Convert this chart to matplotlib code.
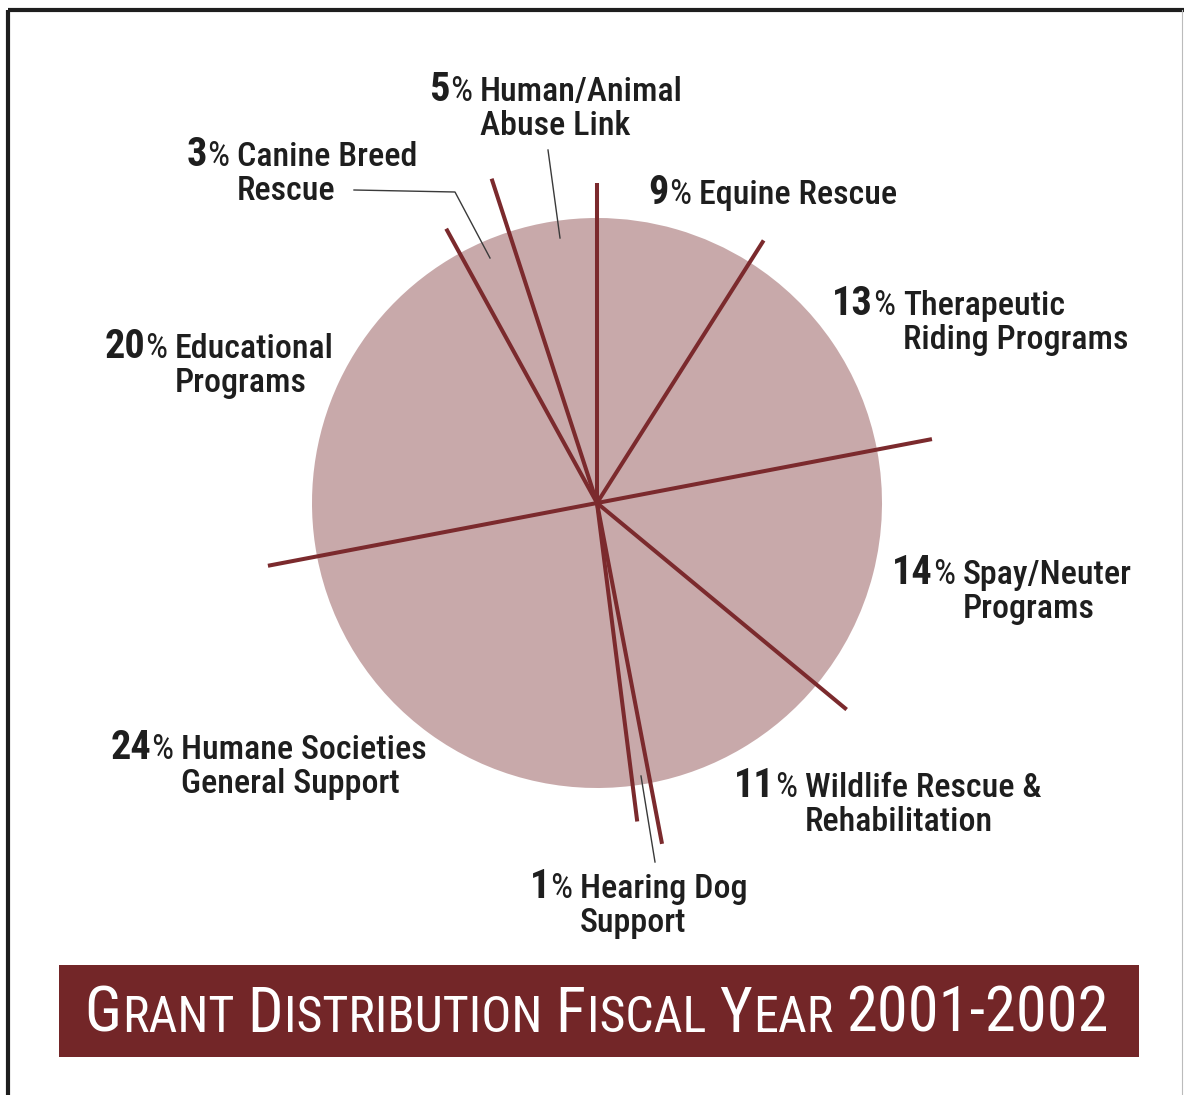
import matplotlib
matplotlib.use("Agg")
import matplotlib.pyplot as plt
from matplotlib import font_manager
from matplotlib.patches import Rectangle
import numpy as np

# ---------------- data ----------------
categories = [
    "Equine Rescue",
    "Therapeutic\nRiding Programs",
    "Spay/Neuter\nPrograms",
    "Wildlife Rescue &\nRehabilitation",
    "Hearing Dog\nSupport",
    "Humane Societies\nGeneral Support",
    "Educational\nPrograms",
    "Canine Breed\nRescue",
    "Human/Animal\nAbuse Link",
]
percentages = [9, 13, 14, 11, 1, 24, 20, 3, 5]
title = "GRANT DISTRIBUTION FISCAL YEAR 2001-2002"

# ---------------- styles / layout ----------------
W, H = 1184, 1095
PIE = "#c8a9aa"
LINE = "#7b2a2d"
BANNER = "#732628"
TXT = "#1e1e1e"
CX, CY, R = 597, 503, 285
sep_lengths = [320, 311, 341, 324, 347, 321, 335, 313, 341]
# (name x, first baseline y) in pixel coords from top
label_pos = [(699, 204), (903, 315), (963, 584), (805, 797), (580, 898),
             (181, 759), (175, 358), (237, 166), (480, 101)]
LINE_GAP = 34

names = {f.name for f in font_manager.fontManager.ttflist}
FONT = "Liberation Sans"
for cand in ["Liberation Sans Narrow", "Roboto Condensed", "Open Sans Condensed", "Arial Narrow"]:
    if cand in names:
        FONT = cand
        break
plt.rcParams["font.family"] = [FONT, "DejaVu Sans"]

fig = plt.figure(figsize=(W / 100, H / 100), dpi=100)
ax = fig.add_axes([0, 0, 1, 1])


def Y(y):
    return H - y


ax.pie(percentages, startangle=90, counterclock=False, center=(CX, Y(CY)),
       radius=R, colors=[PIE] * len(percentages),
       wedgeprops=dict(linewidth=0), frame=True)
ax.set_xlim(0, W)
ax.set_ylim(0, H)
ax.set_aspect("auto")
ax.axis("off")

# separator lines from data boundaries
total = sum(percentages)
cum = np.concatenate([[0], np.cumsum(percentages)[:-1]])
angles = np.deg2rad(90 - 360.0 * cum / total)
for a, L in zip(angles, sep_lengths):
    ax.plot([CX, CX + L * np.cos(a)], [Y(CY), Y(CY) + L * np.sin(a)],
            color=LINE, lw=2.9, solid_capstyle="butt", zorder=3)

# leader lines
leaders = [
    [(354, 190), (455, 192), (490, 258)],
    [(548, 150), (560, 238)],
    [(655, 862), (641, 776)],
]
for pts in leaders:
    xs = [p[0] for p in pts]
    ys = [Y(p[1]) for p in pts]
    ax.plot(xs, ys, color="#3a3a3a", lw=1.0, zorder=4)

renderer = fig.canvas.get_renderer()


def text_w(s, **kw):
    t = ax.text(0, 0, s, **kw)
    w = t.get_window_extent(renderer).width
    t.remove()
    return w


NUM_KW = dict(fontsize=29, fontweight="bold", color=TXT)
PCT_KW = dict(fontsize=25, color=TXT)
NAME_KW = dict(fontsize=24.5, fontweight="medium", color=TXT)

for pct, cat, (nx, by) in zip(percentages, categories, label_pos):
    lines = cat.split("\n")
    for i, ln in enumerate(lines):
        ax.text(nx, Y(by + i * LINE_GAP), ln, ha="left", va="baseline", **NAME_KW)
    wp = text_w("%", **PCT_KW)
    px = nx - 8 - wp
    ax.text(px, Y(by), "%", ha="left", va="baseline", **PCT_KW)
    ax.text(px, Y(by), str(pct), ha="right", va="baseline", **NUM_KW)

# title banner
ax.add_patch(Rectangle((59, Y(1057)), 1139 - 59, 1057 - 965, color=BANNER, lw=0, zorder=2))
BIG = dict(fontsize=45, color="white")
SMALL = dict(fontsize=36, color="white")
pieces = []
for wi, word in enumerate(title.split(" ")):
    if wi > 0:
        pieces.append((" ", "gap"))
    if word[0].isdigit():
        pieces.append((word, "big"))
    else:
        pieces.append((word[0], "big"))
        pieces.append((word[1:], "small"))
space_w = 12
widths = []
for s, kind in pieces:
    if kind == "gap":
        widths.append(space_w)
    else:
        widths.append(text_w(s, **(BIG if kind == "big" else SMALL)) + 1)
x = 597 - sum(widths) / 2
for (s, kind), w in zip(pieces, widths):
    if kind != "gap":
        ax.text(x, Y(1032), s, ha="left", va="baseline",
                **(BIG if kind == "big" else SMALL), zorder=5)
    x += w

# frame border
ax.plot([8, 8], [Y(1095), Y(10)], color="#1e1e1e", lw=3, solid_capstyle="butt")
ax.plot([8, W], [Y(10), Y(10)], color="#1e1e1e", lw=3, solid_capstyle="butt")
ax.plot([1182, 1182], [Y(1095), Y(10)], color="#bbbbbb", lw=0.8)

fig.savefig("out.png", dpi=100, facecolor="white")
